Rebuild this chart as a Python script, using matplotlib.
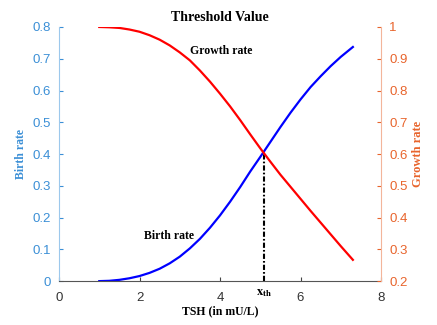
import numpy as np
import matplotlib
matplotlib.use("Agg")
import matplotlib.pyplot as plt

# TSH values (mU/L)
tsh = [1.0, 1.25, 1.5, 1.75, 2.0, 2.25, 2.5, 2.75, 3.0, 3.25, 3.5, 3.75, 4.0,
       4.25, 4.5, 4.75, 5.0, 5.25, 5.5, 5.75, 6.0, 6.25, 6.5, 6.75, 7.0, 7.3]
birth_rate = [0.000, 0.001, 0.004, 0.009, 0.016, 0.026, 0.039, 0.056, 0.077,
              0.103, 0.133, 0.168, 0.207, 0.250, 0.296, 0.345, 0.391, 0.438,
              0.485, 0.530, 0.572, 0.611, 0.645, 0.677, 0.706, 0.737]
growth_rate = [1.000, 0.999, 0.997, 0.992, 0.985, 0.974, 0.960, 0.942, 0.920,
               0.895, 0.863, 0.828, 0.790, 0.750, 0.707, 0.662, 0.618, 0.576,
               0.535, 0.497, 0.459, 0.421, 0.384, 0.347, 0.310, 0.267]
x_th = 5.1
y_th = 0.4

blue_tick = '#3b8fd6'
blue_spine = '#9cc8ec'
orange_tick = '#e8642c'
orange_spine = '#f3b59a'
serif = ['Liberation Serif', 'DejaVu Serif']
sans = ['Liberation Sans', 'DejaVu Sans']

fig = plt.figure(figsize=(4.37, 3.25), dpi=100)
ax = fig.add_axes([0.135, 0.135, 0.737, 0.782])
ax2 = ax.twinx()

ax.plot(tsh, birth_rate, color='#0000ff', lw=1.6)
ax2.plot(tsh, growth_rate, color='#ff0000', lw=1.6)
ax.plot([x_th, x_th], [0, y_th], color='black', lw=1.5, dashes=(2.5, 1, 0.8, 1))

ax.set_xlim(0, 8)
ax.set_ylim(0, 0.8)
ax2.set_ylim(0.2, 1.0)
ax.set_xticks([0, 2, 4, 6, 8])
ax.set_yticks(np.arange(0, 0.81, 0.1))
ax.set_yticklabels(['0', '0.1', '0.2', '0.3', '0.4', '0.5', '0.6', '0.7', '0.8'])
ax2.set_yticks(np.arange(0.2, 1.01, 0.1))
ax2.set_yticklabels(['0.2', '0.3', '0.4', '0.5', '0.6', '0.7', '0.8', '0.9', '1'])

for a in (ax, ax2):
    a.spines['top'].set_visible(False)
    a.tick_params(direction='in', length=3, labelsize=9.5, pad=6)
    for lbl in a.get_xticklabels() + a.get_yticklabels():
        lbl.set_family(sans)

ax.spines['left'].set_color(blue_spine)
ax.spines['bottom'].set_color('#555555')
ax.spines['right'].set_visible(False)
ax2.spines['left'].set_visible(False)
ax2.spines['bottom'].set_visible(False)
ax2.spines['right'].set_color(orange_spine)
ax.tick_params(axis='y', colors=blue_tick)
ax.tick_params(axis='x', colors='#444444', labelcolor='#333333', pad=8)
ax2.tick_params(axis='y', colors=orange_tick)

ax.set_title('Threshold Value', family=serif, fontweight='bold', fontsize=10, pad=4)
ax.set_xlabel('TSH (in mU/L)', family=serif, fontweight='bold', fontsize=8.5, labelpad=1)
ax.set_ylabel('Birth rate', family=serif, fontweight='bold', fontsize=8.5, color=blue_tick, labelpad=4)
ax2.set_ylabel('Growth rate', family=serif, fontweight='bold', fontsize=9, color=orange_tick, labelpad=3)

ax.text(4.03, 0.724, 'Growth rate', family=serif, fontweight='bold', fontsize=8.5,
        ha='center', va='center')
ax.text(2.73, 0.142, 'Birth rate', family=serif, fontweight='bold', fontsize=8.5,
        ha='center', va='center')
ax.text(x_th, -0.035, r'$\mathbf{x_{th}}$', fontsize=9, ha='center', va='center',
        math_fontfamily='stix')

fig.savefig('out.png', dpi=100)
